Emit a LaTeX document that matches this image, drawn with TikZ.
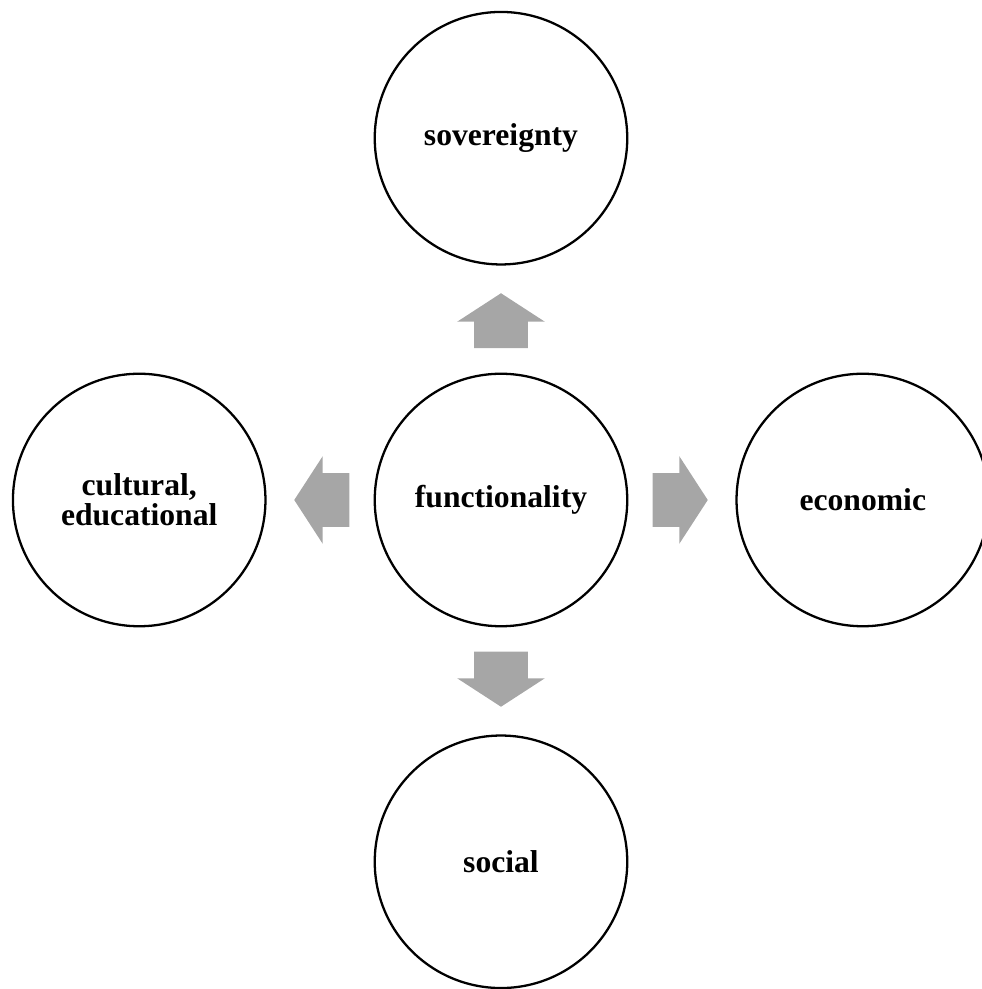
\documentclass[tikz,border=0pt]{standalone}
\usepackage{fontspec}
\setmainfont{Liberation Serif}
\usetikzlibrary{positioning}
\usetikzlibrary{shapes.arrows}
\definecolor{arrowgray}{RGB}{166,166,166}

\begin{document}
\begin{tikzpicture}
    [
    area/.style={circle,draw,line width=1.3pt,minimum size=5.05cm,inner sep=0pt,
      align=center,font=\fontsize{18}{17}\selectfont\bfseries},
    flow/.style={single arrow,fill=arrowgray,draw=none,inner xsep=0pt,inner ysep=0.53cm,
      minimum height=1.1cm,minimum width=1.74cm,
      single arrow head extend=0.34cm,single arrow tip angle=114,anchor=tail},
    node distance=2.14cm,
    ]
    \useasboundingbox (-10.02,-9.78) rectangle (9.62,10.0);
    \node (func) at (0,0) [area] {functionality};
    \node (sov) [area, above=of func] {sovereignty};
    \node (econ) [area, right=of func] {economic};
    \node (soc) [area, below=of func] {social};
    \node (cult) [area, left=of func] {cultural,\\educational};

    \node (up) at ([yshift=4.8mm]func.north) [flow, rotate=90] {};
    \node (dn) at ([yshift=-4.8mm]func.south) [flow, rotate=-90] {};
    \node (rt) at ([xshift=4.8mm]func.east) [flow] {};
    \node (lt) at ([xshift=-4.8mm]func.west) [flow, rotate=180] {};
  \end{tikzpicture}
\end{document}
